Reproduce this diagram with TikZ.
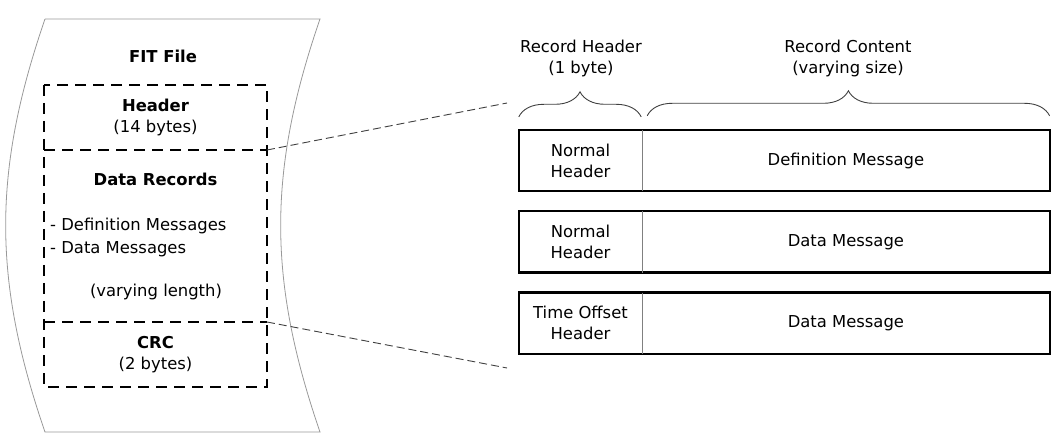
\documentclass[tikz,border=0pt]{standalone}
\usepackage{fontspec}
\setmainfont{DejaVu Sans}
\usepackage{tikz}
\usetikzlibrary{positioning, decorations.pathreplacing}
\tikzset{
	scroll/.style={draw=gray!80, line width=0.8pt},
	dashbox/.style={line width=1.9pt, dash pattern=on 11pt off 7pt},
	zoomline/.style={draw=black!75, line width=0.9pt, dash pattern=on 8pt off 4pt},
	hdrcell/.style={minimum width=123pt, minimum height=61pt, inner sep=0pt, align=center},
	msgcell/.style={minimum width=407pt, minimum height=61pt, inner sep=0pt, align=center},
	rowframe/.style={line width=2.2pt},
	divider/.style={draw=gray, line width=1pt},
	brace/.style={draw=black!75, line width=0.9pt, decorate, decoration={brace, amplitude=25pt}},
}

\begin{document}
\begin{tikzpicture}[x=1pt, y=-1pt, font=\fontsize{16.4}{21}\selectfont]
			\useasboundingbox (0,0) rectangle (1063,446);
			% FIT file
			\draw[scroll] (45,19) -- (320,19) to[bend right=19] (320,432) -- (45,432) to[bend left=19] (45,19);
			\node (fitlbl) at (163,56) {\textbf{FIT File}};

			\draw[dashbox] (44,85) rectangle (267,387);
			\draw[dashbox] (44,150) -- (267,150);
			\draw[dashbox] (44,322) -- (267,322);
			\coordinate (hdrsplit) at (267,150);
			\coordinate (crcsplit) at (267,322);

			\node[align=center] (hdrlbl) at (155.5,117.5) {\textbf{Header}\\(14 bytes)};
			\node (datalbl) at (155.5,179) {\textbf{Data Records}};
			\node[anchor=base west, inner sep=0pt] (defitem) at (50,231) {- Definition Messages};
			\node[anchor=base west, inner sep=0pt] (dataitem) at (50,254) {- Data Messages};
			\node[anchor=base, inner sep=0pt] (lenlbl) at (156,297) {(varying length)};
			\node[align=center] (crclbl) at (155.5,355) {\textbf{CRC}\\(2 bytes)};

			% records
			\node[hdrcell] (hdr1) at (580.5,160.5) {Normal\\Header};
			\node[msgcell, right=0pt of hdr1] (msg1) {Definition Message};
			\node[hdrcell, below=20pt of hdr1] (hdr2) {Normal\\Header};
			\node[msgcell, right=0pt of hdr2] (msg2) {Data Message};
			\node[hdrcell, below=20pt of hdr2] (hdr3) {Time Offset\\Header};
			\node[msgcell, right=0pt of hdr3] (msg3) {Data Message};

			\draw[rowframe] (hdr1.north west) rectangle (msg1.south east);
			\draw[divider] (hdr1.north east) -- (hdr1.south east);
			\draw[rowframe] (hdr2.north west) rectangle (msg2.south east);
			\draw[divider] (hdr2.north east) -- (hdr2.south east);
			\draw[rowframe] (hdr3.north west) rectangle (msg3.south east);
			\draw[divider] (hdr3.north east) -- (hdr3.south east);

			% braces
			\draw[brace] ([yshift=13pt]hdr1.north west) -- ([xshift=-1pt, yshift=13pt]hdr1.north east);
			\draw[brace] ([xshift=5pt, yshift=14pt]msg1.north west) -- ([yshift=14pt]msg1.north east);
			\node[align=center] (reclbl) at (581,58) {Record Header\\(1 byte)};
			\node[align=center] (contlbl) at (848,58) {Record Content\\(varying size)};

			% zoom lines
			\coordinate (topend) at (507,103);
			\coordinate (botend) at (507,368);
			\draw[zoomline] (hdrsplit) -- (topend);
			\draw[zoomline] (crcsplit) -- (botend);
		\end{tikzpicture}
\end{document}
